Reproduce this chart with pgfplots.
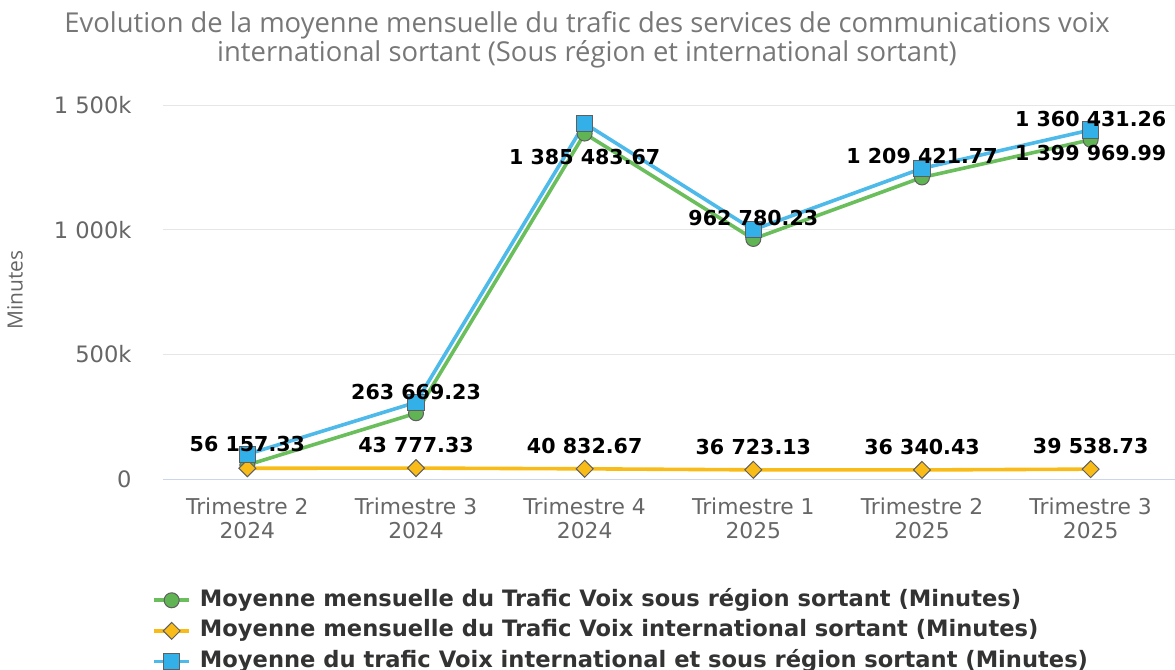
\documentclass[border=0pt]{standalone}
\usepackage{fontspec}
\setmainfont{DejaVu Sans}
\newfontfamily\titlefont{Open Sans}
\usepackage{pgfplots}
\pgfplotsset{compat=1.18}

\definecolor{vert}{RGB}{106,190,92}
\definecolor{vertfill}{RGB}{96,180,84}
\definecolor{jaune}{RGB}{248,187,24}
\definecolor{bleu}{RGB}{78,186,234}
\definecolor{bleufill}{RGB}{52,176,232}
\definecolor{bord}{RGB}{95,95,95}
\definecolor{grille}{RGB}{230,230,230}
\definecolor{axebleu}{RGB}{204,214,235}
\definecolor{gristexte}{RGB}{102,102,102}
\definecolor{gristitre}{RGB}{119,119,119}

\pgfplotsset{
  lbl/.style={draw=none, mark=none, forget plot, nodes near coords,
    point meta=explicit symbolic,
    nodes near coords style={font=\bfseries\fontsize{10.3}{12}\selectfont,
      text=black, inner sep=0pt, anchor=center, yshift=#1}},
}

\begin{document}
\begin{tikzpicture}
\useasboundingbox (-81.5pt,-95.5pt) rectangle (506pt,239.5pt);
\begin{axis}[
  at={(0,0)}, anchor=south west,
  width=506pt, height=187pt, scale only axis,
  xmin=-0.5, xmax=5.5, ymin=0, ymax=1500000,
  axis x line*=bottom, axis y line*=left,
  x axis line style={-, draw=axebleu, line width=0.5pt},
  y axis line style={draw=none},
  major tick length=0pt,
  xtick={0,1,2,3,4,5},
  xticklabels={{Trimestre 2\\2024},{Trimestre 3\\2024},{Trimestre 4\\2024},
    {Trimestre 1\\2025},{Trimestre 2\\2025},{Trimestre 3\\2025}},
  xticklabel style={align=center, font=\fontsize{10.9}{12}\selectfont,
    text=gristexte, inner sep=0pt, anchor=north, yshift=-9.5pt},
  ytick={0,500000,1000000,1500000},
  yticklabels={0,500k,1 000k,1 500k},
  scaled y ticks=false,
  yticklabel style={font=\fontsize{11.3}{12}\selectfont, text=gristexte,
    inner sep=0pt, anchor=east, xshift=-15.5pt},
  ymajorgrids, major grid style={draw=grille, line width=0.5pt},
  clip=false,
  legend cell align=left,
  legend style={at={(-0.0109,-0.297)}, anchor=north west, draw=none,
    fill=none, inner sep=0pt, row sep=5.5pt, column sep=4.5pt,
    font=\bfseries\fontsize{11.3}{12}\selectfont, text=black!80,
    nodes={inner sep=0pt, text height=7.8pt, text depth=2pt}},
  legend image code/.code={
    \draw[mark repeat=2, mark phase=2, #1]
      plot coordinates {(0pt,0pt) (8.75pt,0pt) (17.5pt,0pt)};},
]
\addplot[vert, line width=1.8pt, mark=*, mark size=3.75pt,
  mark options={fill=vertfill, draw=bord, line width=0.5pt}]
  coordinates {(0,56157.33) (1,263669.23) (2,1385483.67) (3,962780.23)
    (4,1209421.77) (5,1360431.26)};
\addlegendentry{Moyenne mensuelle du Trafic Voix sous région sortant (Minutes)}

\addplot[jaune, line width=1.8pt, mark=square*, mark size=3pt,
  mark options={rotate=45, fill=jaune, draw=bord, line width=0.5pt}]
  coordinates {(0,43000) (1,43777.33) (2,40832.67) (3,36723.13)
    (4,36340.43) (5,39538.73)};
\addlegendentry{Moyenne mensuelle du Trafic Voix international sortant (Minutes)}

\addplot[bleu, line width=1.8pt, mark=square*, mark size=4.1pt,
  mark options={fill=bleufill, draw=bord, line width=0.5pt}]
  coordinates {(0,99157.33) (1,307446.56) (2,1426316.34) (3,999503.36)
    (4,1245762.20) (5,1399969.99)};
\addlegendentry{Moyenne du trafic Voix international et sous région sortant (Minutes)}

% etiquettes
\addplot[lbl=10.5pt] coordinates {(0,56157.33) [56 157.33]
  (1,263669.23) [263 669.23] (3,962780.23) [962 780.23]
  (4,1209421.77) [1 209 421.77] (5,1360431.26) [1 360 431.26]};
\addplot[lbl=-11.7pt] coordinates {(2,1385483.67) [1 385 483.67]};
\addplot[lbl=-11.5pt] coordinates {(5,1399969.99) [1 399 969.99]};
\addplot[lbl=11.5pt] coordinates {(1,43777.33) [43 777.33]
  (2,40832.67) [40 832.67] (3,36723.13) [36 723.13]
  (4,36340.43) [36 340.43] (5,39538.73) [39 538.73]};
\end{axis}

\node[font=\titlefont\fontsize{13.7}{14.2}\selectfont, text=gristitre, align=center]
  at (212pt,219.5pt) {Evolution de la moyenne mensuelle du trafic des services de communications voix\\
  international sortant (Sous région et international sortant)};
\node[font=\titlefont\fontsize{10.5}{11}\selectfont, text=gristexte, rotate=90]
  at (-74pt,94.5pt) {Minutes};
\end{tikzpicture}
\end{document}
